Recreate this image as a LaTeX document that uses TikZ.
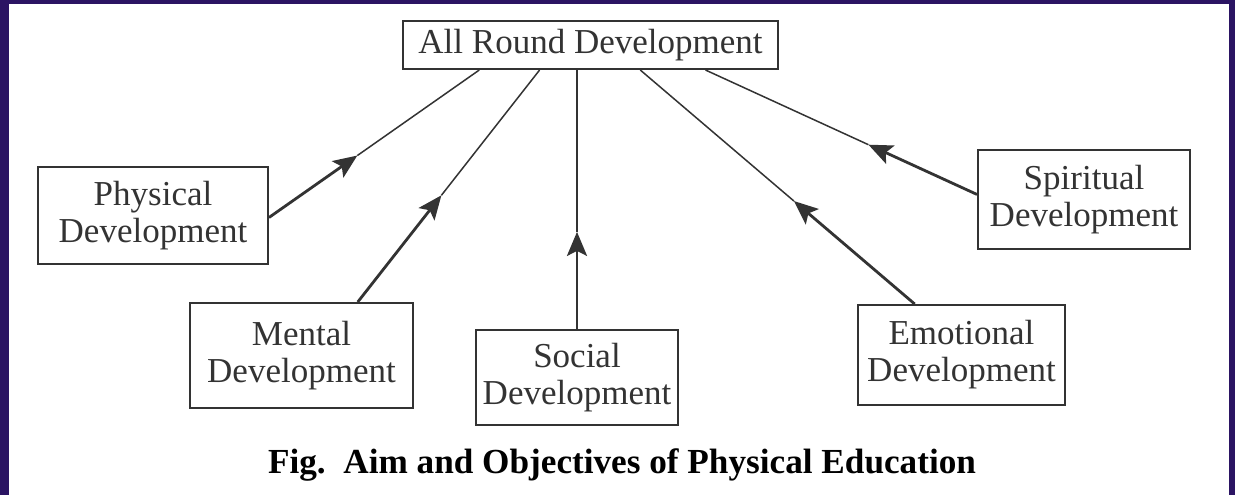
\documentclass[tikz,border=0pt]{standalone}
\usepackage{fontspec}
\setmainfont{Liberation Serif}
\usetikzlibrary{arrows.meta,calc}
\definecolor{frame}{HTML}{2B1463}
\definecolor{ink}{HTML}{333333}
\begin{document}
\begin{tikzpicture}[x=0.5pt,y=-0.5pt,
  box/.style={draw=ink,line width=1pt,text=ink,align=center,inner sep=0pt,
    font=\fontsize{17.5}{18.5}\selectfont},
  thickln/.style={draw=ink,line width=1.4pt,-{Stealth[length=12pt,width=10pt,inset=2.5pt]}},
  thinln/.style={draw=ink,line width=0.75pt}]
\useasboundingbox (0,0) rectangle (1235,495);
\fill[white] (0,0) rectangle (1235,495);
\fill[frame] (0,0) rectangle (9,495);
\fill[frame] (0,0) rectangle (1235,4);
\fill[frame] (1229,0) rectangle (1235,495);

\node[box,minimum width=187.5pt,minimum height=24pt] (top) at (590.5,45) {All Round Development};
\node[box,minimum width=115pt,minimum height=48.5pt] (phys) at (153,215.5) {Physical\\Development};
\node[box,minimum width=111.5pt,minimum height=52.5pt] (ment) at (301.5,355.5) {Mental\\Development};
\node[box,minimum width=101pt,minimum height=47.5pt] (soc) at (577,377.5) {Social\\Development};
\node[box,minimum width=103.5pt,minimum height=50pt] (emo) at (961.5,355) {Emotional\\Development};
\node[box,minimum width=106pt,minimum height=49.5pt] (spir) at (1084,199.5) {Spiritual\\Development};
\node[font=\bfseries\fontsize{17.6}{20}\selectfont] (cap) at (622,465) {Fig.\ \ Aim and Objectives of Physical Education};

% source points
\coordinate (s1) at ($(phys.north east)!0.52!(phys.south east)$);
\coordinate (s2) at ($(ment.north west)!0.75!(ment.north east)$);
\coordinate (s3) at (soc.north);
\coordinate (s4) at ($(emo.north west)!0.276!(emo.north east)$);
\coordinate (s5) at ($(spir.north west)!0.45!(spir.south west)$);
% destination points
\coordinate (d1) at ($(top.south west)!0.205!(top.south east)$);
\coordinate (d2) at ($(top.south west)!0.365!(top.south east)$);
\coordinate (d3) at (top.south -| soc.north);
\coordinate (d4) at ($(top.south west)!0.632!(top.south east)$);
\coordinate (d5) at ($(top.south west)!0.805!(top.south east)$);
% arrow tips
\coordinate (t1) at ($(s1)!0.42!(d1)$);
\coordinate (t2) at ($(s2)!0.46!(d2)$);
\coordinate (t3) at ($(s3)!0.375!(d3)$);
\coordinate (t4) at ($(s4)!0.44!(d4)$);
\coordinate (t5) at ($(s5)!0.40!(d5)$);

\foreach \i in {1,...,5}{
  \draw[thickln] (s\i) -- (t\i);
  \draw[thinln] (t\i) -- (d\i);
}
\end{tikzpicture}
\end{document}
